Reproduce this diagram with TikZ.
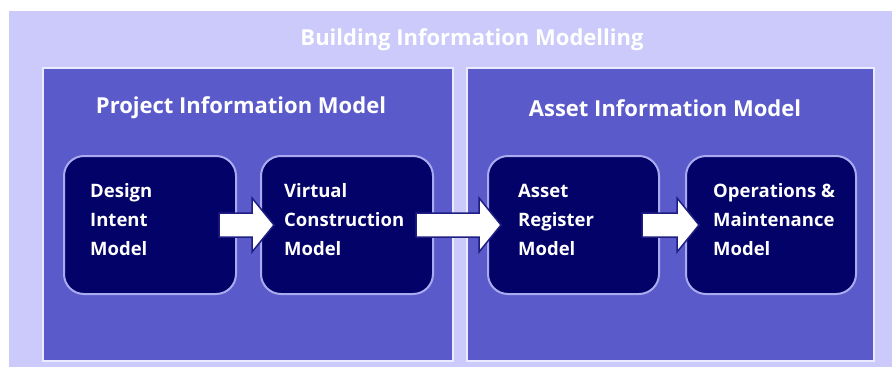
\documentclass[tikz,border=0pt]{standalone}
\usepackage{fontspec}
\setmainfont{Open Sans}
\usetikzlibrary{calc}
\definecolor{bgc}{RGB}{203,202,250}
\definecolor{panelc}{RGB}{90,90,202}
\definecolor{panelline}{RGB}{235,235,255}
\definecolor{boxc}{RGB}{2,2,104}
\definecolor{boxline}{RGB}{170,170,240}
\definecolor{arrline}{RGB}{30,30,130}
\tikzset{
  bgbox/.style={fill=bgc, draw=none, inner sep=0pt, anchor=north west},
  panel/.style={fill=panelc, draw=panelline, line width=2pt, inner sep=0pt, anchor=north west},
  modelbox/.style={fill=boxc, draw=boxline, line width=2pt, rounded corners=20pt, inner sep=0pt, anchor=north west, minimum height=138pt},
  titletext/.style={text=white, font=\bfseries\fontsize{22}{26}\selectfont, inner sep=0pt},
  boxtext/.style={text=white, font=\bfseries\fontsize{18.5}{29}\selectfont, align=left, inner sep=0pt, anchor=west},
  blockarr/.style={fill=white, draw=arrline, line width=1.5pt, line join=miter}
}
\newcommand\blockarrow[2]{%
  \draw[blockarr] ($(#1.east)+(-18,-12)$) -- ($(#2.west)+(-8,-12)$) -- ($(#2.west)+(-8,-27)$)
    -- ($(#2.west)+(14,0)$) -- ($(#2.west)+(-8,27)$) -- ($(#2.west)+(-8,12)$)
    -- ($(#1.east)+(-18,12)$) -- cycle;}
\begin{document}
\begin{tikzpicture}[x=1pt,y=-1pt]
\useasboundingbox (0,0) rectangle (892,367);
\fill[white] (0,0) rectangle (892,367);
\node[bgbox, minimum width=883pt, minimum height=356pt] (bim) at (9,11) {};
\node[panel, minimum width=410pt, minimum height=293pt] (pim) at (42,67) {};
\node[panel, minimum width=407pt, minimum height=293pt] (aim) at (466,67) {};
\node[titletext] (tbim) at (472,40) {Building Information Modelling};
\node[titletext] (tpim) at (241,108) {Project Information Model};
\node[titletext] (taim) at (665,108) {Asset Information Model};
\node[modelbox, minimum width=172pt] (b1) at (63,155) {};
\node[modelbox, minimum width=172pt] (b2) at (260,155) {};
\node[modelbox, minimum width=171pt] (b3) at (487,155) {};
\node[modelbox, minimum width=170pt] (b4) at (685,155) {};
\node[boxtext] (t1) at ($(b1.west)+(27,-5)$) {Design\\Intent\\Model};
\node[boxtext] (t2) at ($(b2.west)+(24,-5)$) {Virtual\\Construction\\Model};
\node[boxtext] (t3) at ($(b3.west)+(31,-5)$) {Asset\\Register\\Model};
\node[boxtext] (t4) at ($(b4.west)+(28,-5)$) {Operations \&\\Maintenance\\Model};
\blockarrow{b1}{b2}
\blockarrow{b2}{b3}
\blockarrow{b3}{b4}
\end{tikzpicture}
\end{document}
